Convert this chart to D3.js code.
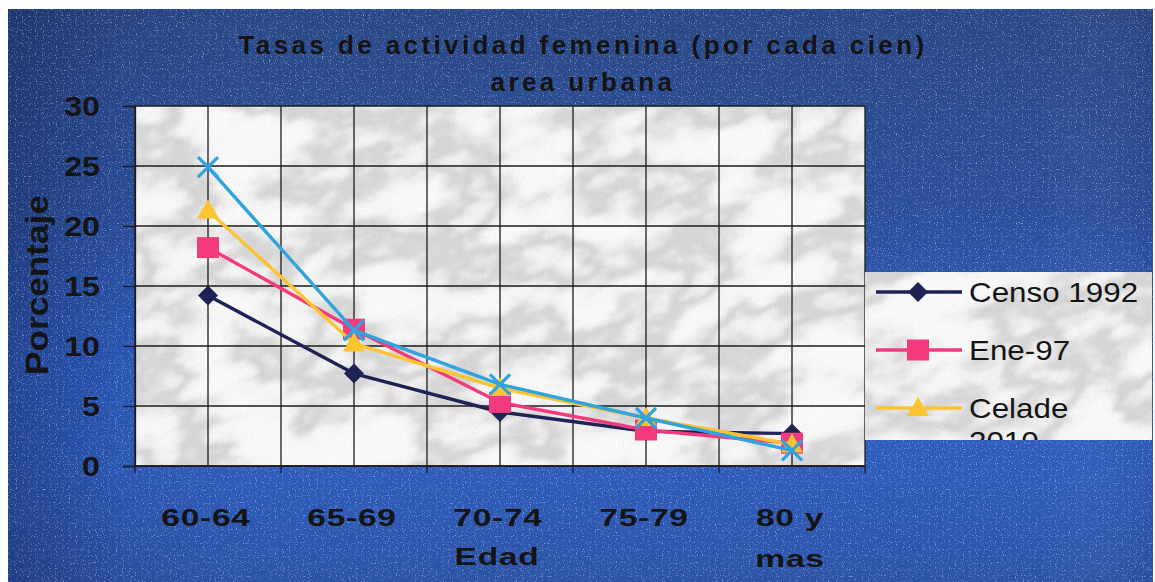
<!DOCTYPE html>
<html>
<head>
<meta charset="utf-8">
<script src="https://cdn.jsdelivr.net/npm/d3@7"></script>
<style>
  html, body { margin: 0; padding: 0; background: #ffffff; }
  svg { display: block; }
</style>
</head>
<body>
<svg id="chart" width="1155" height="582"></svg>
<script>
// ---- Data ----
const categories = ["60-64", "65-69", "70-74", "75-79", "80 y mas"];
const seriesNames = ["Censo 1992", "Ene-97", "Celade 2010", "Serie 4"];
const censo1992 = [14.2, 7.7, 4.5, 2.9, 2.7];
const ene97 = [18.2, 11.4, 5.3, 3.0, 1.9];
const celade2010 = [21.3, 10.2, 6.5, 4.0, 1.8];
const serie4 = [24.9, 11.3, 6.8, 4.0, 1.3];
const yTicks = [0, 5, 10, 15, 20, 25, 30];
const titleLines = ["Tasas de actividad femenina (por cada cien)", "area urbana"];
const xTitle = "Edad";
const yTitle = "Porcentaje";

// ---- Styles ----
const seriesValues = [censo1992, ene97, celade2010, serie4];
const seriesColors = ["#1f2254", "#f33a7f", "#fbc431", "#31a3dd"];
const seriesMarkers = ["diamond", "square", "triangle", "cross"];
const FONT = "'Liberation Sans', Arial, Helvetica, sans-serif";
const INK = "#141414";

const W = 1155, H = 582;
const plot = { left: 135, right: 865, top: 106, bottom: 466 };
const legendBox = { x: 865, y: 272, w: 287, h: 168 };

const svg = d3.select("#chart");
const defs = svg.append("defs");

// Background gradients (blue panel)
const gV = defs.append("linearGradient").attr("id", "bgV")
  .attr("x1", 0).attr("y1", 0).attr("x2", 0).attr("y2", 1);
[[0, "#2a4886"], [0.35, "#2b4f9c"], [0.62, "#2d5bbd"], [0.8, "#2e5cbc"], [1, "#2c53a6"]]
  .forEach(([o, c]) => gV.append("stop").attr("offset", o).attr("stop-color", c));
const gH = defs.append("linearGradient").attr("id", "bgH")
  .attr("x1", 0).attr("y1", 0).attr("x2", 1).attr("y2", 0);
[[0, "#0a1640", 0.35], [0.1, "#0a1640", 0.08], [0.2, "#0a1640", 0], [0.9, "#ffffff", 0], [1, "#0a1640", 0.08]]
  .forEach(([o, c, a]) => gH.append("stop").attr("offset", o).attr("stop-color", c).attr("stop-opacity", a));

// Fine grain for the blue panel
const grain = defs.append("filter").attr("id", "grain")
  .attr("filterUnits", "userSpaceOnUse").attr("x", 0).attr("y", 0).attr("width", W).attr("height", H);
grain.append("feTurbulence").attr("type", "fractalNoise").attr("baseFrequency", 0.85)
  .attr("numOctaves", 1).attr("seed", 4).attr("result", "n");
grain.append("feColorMatrix").attr("in", "n").attr("type", "matrix")
  .attr("values", "0 0 0 0 0.85  0 0 0 0 0.9  0 0 0 0 1  4 0 0 0 -2.3").attr("result", "sp");
grain.append("feComposite").attr("in", "sp").attr("in2", "SourceGraphic").attr("operator", "in");

// Marble texture: white stone with grey smudges
const marble = defs.append("filter").attr("id", "marble")
  .attr("filterUnits", "userSpaceOnUse").attr("x", -600).attr("y", -600).attr("width", 2400).attr("height", 2000);
marble.append("feTurbulence").attr("type", "fractalNoise").attr("baseFrequency", "0.011 0.02")
  .attr("numOctaves", 5).attr("seed", 31).attr("result", "n");
marble.append("feColorMatrix").attr("in", "n").attr("type", "matrix")
  .attr("values", "1 0 0 0 0  1 0 0 0 0  1 0 0 0 0  0 0 0 0 1").attr("result", "g");
const ct = marble.append("feComponentTransfer").attr("in", "g").attr("result", "veins");
const veinTable = "0.96 0.96 0.96 0.96 0.95 0.93 0.88 0.78 0.68 0.7 0.8 0.9 0.94 0.96 0.97 0.97 0.97 0.97 0.97 0.97 0.97";
["feFuncR", "feFuncG", "feFuncB"].forEach(f =>
  ct.append(f).attr("type", "table").attr("tableValues", veinTable));
marble.append("feGaussianBlur").attr("in", "veins").attr("stdDeviation", 1.5).attr("result", "veinsB");
marble.append("feTurbulence").attr("type", "fractalNoise").attr("baseFrequency", 0.7)
  .attr("numOctaves", 1).attr("seed", 2).attr("result", "fine");
marble.append("feColorMatrix").attr("in", "fine").attr("type", "matrix")
  .attr("values", "0.3 0 0 0 0.82  0.3 0 0 0 0.82  0.3 0 0 0 0.82  0 0 0 0 1").attr("result", "fineG");
marble.append("feBlend").attr("in", "veinsB").attr("in2", "fineG").attr("mode", "multiply").attr("result", "mix");
marble.append("feComposite").attr("in", "mix").attr("in2", "SourceGraphic").attr("operator", "in");

defs.append("clipPath").attr("id", "plotClip").append("rect")
  .attr("x", plot.left).attr("y", plot.top)
  .attr("width", plot.right - plot.left).attr("height", plot.bottom - plot.top);
defs.append("clipPath").attr("id", "legendClip").append("rect")
  .attr("x", legendBox.x).attr("y", legendBox.y).attr("width", legendBox.w).attr("height", legendBox.h);

// ---- Panel ----
svg.append("rect").attr("x", 8).attr("y", 9).attr("width", W - 10).attr("height", H - 9).attr("fill", "url(#bgV)");
svg.append("rect").attr("x", 8).attr("y", 9).attr("width", W - 10).attr("height", H - 9).attr("fill", "url(#bgH)");
svg.append("rect").attr("x", 8).attr("y", 9).attr("width", W - 10).attr("height", H - 9)
  .attr("fill", "#fff").attr("filter", "url(#grain)").attr("opacity", 0.55);

// ---- Text helper ----
function addText(parent, str, x, y, o) {
  return parent.append("text")
    .attr("transform", `translate(${x},${y})` + (o.rotate ? ` rotate(${o.rotate})` : "") + ` scale(${o.sx || 1},1)`)
    .attr("text-anchor", o.anchor || "middle")
    .attr("font-family", FONT)
    .attr("font-size", o.size)
    .attr("font-weight", o.weight || "normal")
    .attr("letter-spacing", o.ls || 0)
    .attr("fill", o.fill || INK)
    .text(str);
}
// Greedy word wrap using measured widths
function wrapWords(str, o, maxW) {
  const probe = svg.append("text").attr("font-family", FONT).attr("font-size", o.size)
    .attr("font-weight", o.weight || "normal").attr("letter-spacing", o.ls || 0)
    .attr("visibility", "hidden");
  const measure = s => { probe.text(s); return probe.node().getComputedTextLength() * (o.sx || 1); };
  const words = str.split(" ");
  const lines = [];
  let cur = words[0];
  for (let i = 1; i < words.length; i++) {
    const test = cur + " " + words[i];
    if (measure(test) > maxW) { lines.push(cur); cur = words[i]; } else cur = test;
  }
  lines.push(cur);
  probe.remove();
  return lines;
}

// ---- Scales ----
const x = d3.scaleBand().domain(categories).range([plot.left, plot.right]).padding(0);
const xc = c => x(c) + x.bandwidth() / 2;
const y = d3.scaleLinear().domain([0, 30]).range([plot.bottom, plot.top]);

// ---- Plot area ----
svg.append("g").attr("clip-path", "url(#plotClip)")
  .append("rect")
  .attr("transform", `rotate(-22 ${(plot.left + plot.right) / 2} ${(plot.top + plot.bottom) / 2})`)
  .attr("x", plot.left - 300).attr("y", plot.top - 300)
  .attr("width", plot.right - plot.left + 600).attr("height", plot.bottom - plot.top + 600)
  .attr("fill", "#fff").attr("filter", "url(#marble)");

const grid = svg.append("g").attr("stroke", "#1c1c1c").attr("stroke-width", 1.3).attr("fill", "none");
grid.selectAll("line.h").data(yTicks).join("line")
  .attr("x1", plot.left).attr("x2", plot.right)
  .attr("y1", d => y(d)).attr("y2", d => y(d));
const vPos = [];
categories.forEach(c => { vPos.push(x(c)); vPos.push(xc(c)); });
vPos.push(plot.right);
grid.selectAll("line.v").data(vPos).join("line")
  .attr("x1", d => d).attr("x2", d => d)
  .attr("y1", plot.top).attr("y2", plot.bottom);

// ---- Axes ----
const yAxis = svg.append("g").attr("transform", `translate(${plot.left},0)`)
  .call(d3.axisLeft(y).tickValues(yTicks).tickSize(12).tickFormat(""));
yAxis.select(".domain").attr("stroke", "#1c1c1c").attr("stroke-width", 1.3);
yAxis.selectAll(".tick line").attr("stroke", "#1c1c1c").attr("stroke-width", 1.3);

const boundaries = categories.map(c => x(c)).concat([plot.right]);
const xAxis = svg.append("g").attr("transform", `translate(0,${plot.bottom})`);
xAxis.append("line").attr("x1", plot.left).attr("x2", plot.right)
  .attr("stroke", "#1c1c1c").attr("stroke-width", 1.3);
xAxis.selectAll("line.tk").data(boundaries).join("line").attr("class", "tk")
  .attr("x1", d => d).attr("x2", d => d).attr("y1", 0).attr("y2", 7)
  .attr("stroke", "#1c1c1c").attr("stroke-width", 1.3);

// y tick labels
const yLab = { size: 28, weight: "bold", sx: 1.15, anchor: "end" };
yTicks.forEach(t => addText(svg, String(t), 100, y(t) + 10, yLab));

// x tick labels (wrapped when wider than the category slot)
const xLab = { size: 24, weight: "bold", sx: 1.4, ls: 0.5 };
categories.forEach(c => {
  const lines = wrapWords(c, xLab, x.bandwidth() * 0.85);
  lines.forEach((ln, i) => addText(svg, ln, xc(c) - 2, 526 + i * 41, xLab));
});

// axis titles
addText(svg, xTitle, (plot.left + plot.right) / 2 - 3, 565, xLab);
addText(svg, yTitle, 48, (plot.top + plot.bottom) / 2 - 1,
  { size: 32, weight: "bold", sx: 1.1, rotate: -90 });

// chart title
const tOpt = { size: 26, weight: "bold", ls: 3.4 };
titleLines.forEach((ln, i) => addText(svg, ln, 583, 54 + i * 37, tOpt));

// ---- Markers ----
function drawMarker(g, type, cx, cy, color) {
  if (type === "diamond") {
    g.append("path").attr("d", `M${cx},${cy - 10}L${cx + 10},${cy}L${cx},${cy + 10}L${cx - 10},${cy}Z`)
      .attr("fill", color);
  } else if (type === "square") {
    g.append("rect").attr("x", cx - 11).attr("y", cy - 10.5).attr("width", 22).attr("height", 21)
      .attr("fill", color);
  } else if (type === "triangle") {
    g.append("path").attr("d", `M${cx},${cy - 11}L${cx + 11},${cy + 8}L${cx - 11},${cy + 8}Z`)
      .attr("fill", color);
  } else if (type === "cross") {
    g.append("path").attr("d", `M${cx - 10},${cy - 10}L${cx + 10},${cy + 10}M${cx - 10},${cy + 10}L${cx + 10},${cy - 10}`)
      .attr("stroke", color).attr("stroke-width", 3.2).attr("fill", "none");
  }
}

// ---- Series ----
const line = d3.line().x((d, i) => xc(categories[i])).y(d => y(d));
seriesValues.forEach((vals, s) => {
  const g = svg.append("g");
  g.append("path").datum(vals).attr("d", line)
    .attr("fill", "none").attr("stroke", seriesColors[s]).attr("stroke-width", 3.4)
    .attr("stroke-linejoin", "round");
  vals.forEach((v, i) => drawMarker(g, seriesMarkers[s], xc(categories[i]), y(v), seriesColors[s]));
});

// ---- Legend (entries that do not fit in the box are left out; the last one is cut by the box) ----
const lg = svg.append("g").attr("clip-path", "url(#legendClip)");
lg.append("rect")
  .attr("transform", `rotate(-22 ${legendBox.x + legendBox.w / 2} ${legendBox.y + legendBox.h / 2})`)
  .attr("x", legendBox.x - 200).attr("y", legendBox.y - 200)
  .attr("width", legendBox.w + 400).attr("height", legendBox.h + 400)
  .attr("fill", "#fff").attr("filter", "url(#marble)");
const legOpt = { size: 28, weight: "normal", sx: 1.12, anchor: "start" };
let rowY = legendBox.y + 20;
seriesNames.forEach((name, s) => {
  if (rowY + 10 > legendBox.y + legendBox.h) return;
  lg.append("line").attr("x1", 876).attr("x2", 962).attr("y1", rowY).attr("y2", rowY)
    .attr("stroke", seriesColors[s]).attr("stroke-width", 3.4);
  drawMarker(lg, seriesMarkers[s], 918, rowY, seriesColors[s]);
  const lines = wrapWords(name, legOpt, 172);
  lines.forEach((ln, i) => addText(lg, ln, 969, rowY + 10 + i * 33, legOpt));
  rowY += 58;
});
</script>
</body>
</html>
